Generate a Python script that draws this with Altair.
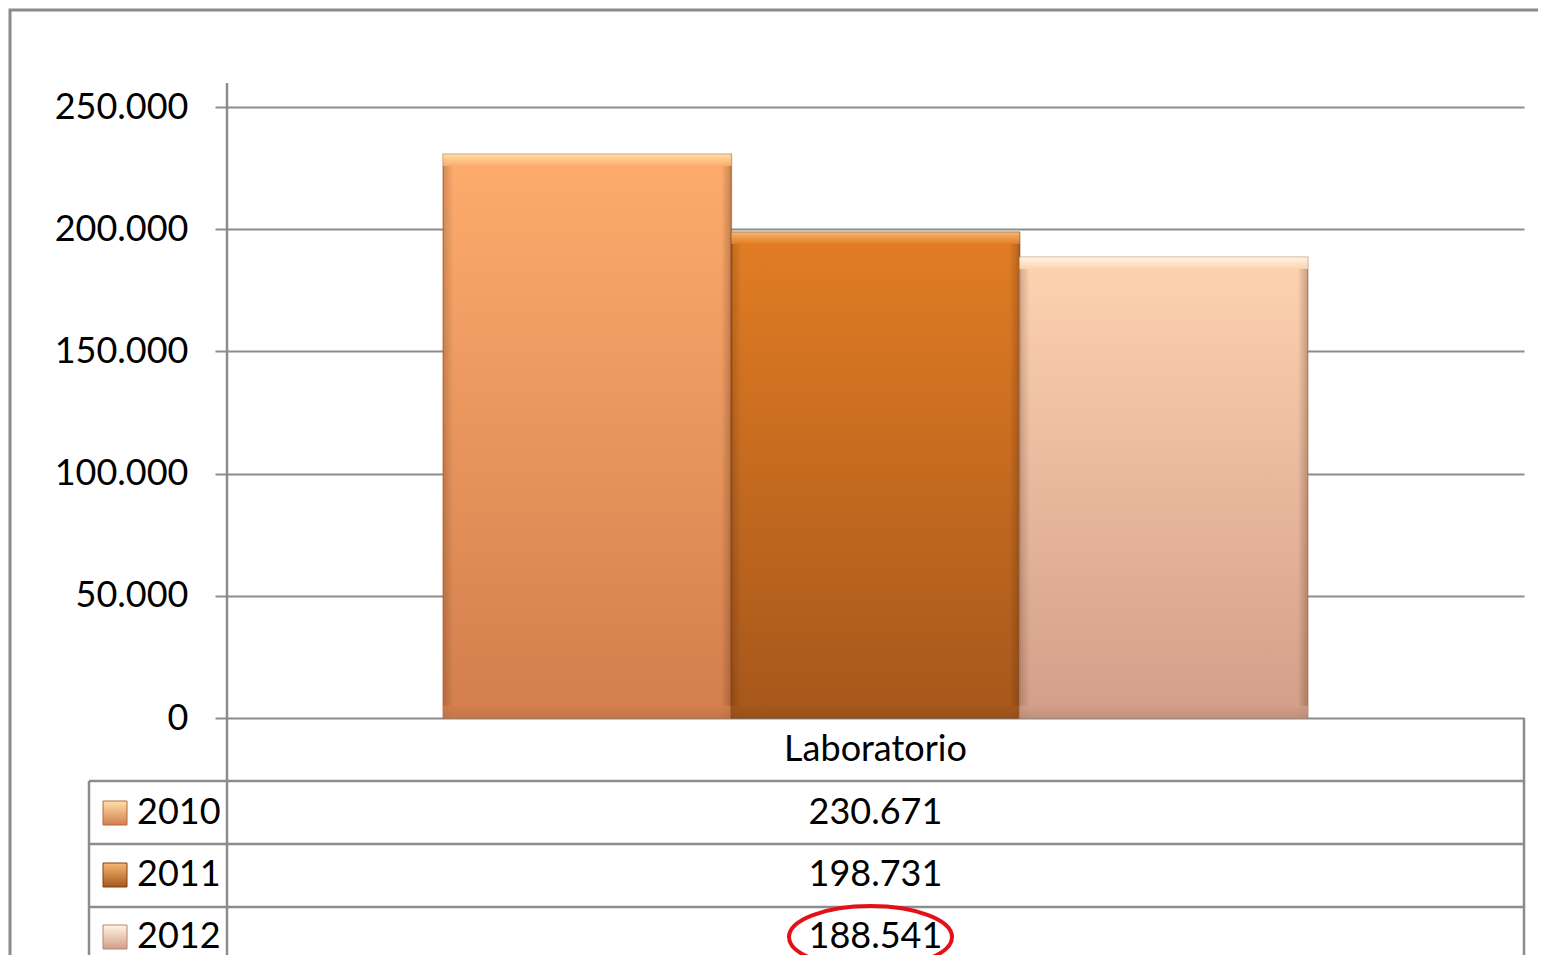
import altair as alt
import pandas as pd

# ---- data -------------------------------------------------------------
years = ["2010", "2011", "2012"]
values = [230671, 198731, 188541]
category = ["Laboratorio"]
y_ticks = [0, 50000, 100000, 150000, 200000, 250000]

top_colors = ["#FDAC6C", "#E27D24", "#FED2B1"]
bottom_colors = ["#D27E4D", "#A6571B", "#D29E88"]
highlight_colors = ["#FFE2A8", "#F8B873", "#FFF6E4"]
base_colors = ["#BF7448", "#94501A", "#BC8E7A"]
edge_colors = ["#B8693A", "#7E4214", "#B88672"]

df = pd.DataFrame({"year": years, "value": values})
cat_df = pd.DataFrame({"cat": category})
one = pd.DataFrame({"a": [0]})

FONT = "Lato"
GRID = "#8C8C8C"
W, H = 1297, 611

yq = alt.Scale(domain=[0, 250000], nice=False, zero=True)
xs = alt.Scale(domain=years, paddingOuter=0.75, paddingInner=0)
row_scale = alt.Scale(type="point", domain=years, range=[706, 830], padding=0)

yaxis = alt.Axis(
    values=y_ticks,
    labelExpr="replace(format(datum.value, ','), ',', '.')",
    grid=True, gridColor=GRID, gridWidth=2,
    domain=False, tickColor=GRID, tickWidth=2, tickSize=12,
    labelFont=FONT, labelFontSize=36, labelColor="black",
    labelPadding=27, title=None,
)


def vgrad(c1, c2):
    return alt.Gradient(
        gradient="linear",
        stops=[alt.GradientStop(color=c1, offset=0), alt.GradientStop(color=c2, offset=1)],
        x1=0, x2=0, y1=0, y2=1,
    )


side_shade = alt.Gradient(
    gradient="linear",
    stops=[
        alt.GradientStop(color="rgba(60,30,10,0.22)", offset=0),
        alt.GradientStop(color="rgba(60,30,10,0)", offset=0.035),
        alt.GradientStop(color="rgba(60,30,10,0)", offset=0.965),
        alt.GradientStop(color="rgba(60,30,10,0.28)", offset=1),
    ],
    x1=0, x2=1, y1=0, y2=0,
)


def rule(x, x2, y, y2, color=GRID, width=2.5):
    return alt.Chart(one).mark_rule(color=color, strokeWidth=width).encode(
        x=alt.value(x), x2=alt.value(x2), y=alt.value(y), y2=alt.value(y2)
    )


layers = []

# outer chart border (no fill, so the axis grid stays visible)
layers.append(
    alt.Chart(one).mark_rect(filled=False, stroke="#8A8A8A", strokeWidth=3).encode(
        x=alt.value(-217), x2=alt.value(1360), y=alt.value(-97), y2=alt.value(900)
    )
)

for i, yr in enumerate(years):
    base = alt.Chart(df).transform_filter(alt.datum.year == yr)
    X = alt.X("year:N", scale=xs, axis=None)
    bar = base.mark_bar(
        color=vgrad(top_colors[i], bottom_colors[i]),
        stroke=edge_colors[i], strokeWidth=1.5, strokeOpacity=0.7,
    ).encode(
        x=X,
        y=alt.Y("value:Q", scale=yq, axis=yaxis if i == 0 else None),
    )
    shade = base.mark_bar(color=side_shade).encode(
        x=X,
        y=alt.Y("value:Q", scale=yq, axis=None),
    )
    hl = base.transform_calculate(lo="datum.value - 4800").mark_bar(
        color=vgrad(highlight_colors[i], top_colors[i]), opacity=0.95,
    ).encode(
        x=X,
        y=alt.Y("value:Q", scale=yq, axis=None),
        y2="lo:Q",
    )
    bt = base.transform_calculate(z="0", hi="5000").mark_bar(
        color=vgrad(bottom_colors[i], base_colors[i]), opacity=0.8,
    ).encode(
        x=X,
        y=alt.Y("z:Q", scale=yq, axis=None),
        y2="hi:Q",
    )
    sw = base.mark_square(
        color=vgrad(highlight_colors[i], bottom_colors[i]), size=576, opacity=1,
        stroke=edge_colors[i], strokeWidth=1,
    ).encode(
        x=alt.value(-112),
        y=alt.Y("year:N", scale=row_scale, axis=None),
    )
    layers += [bar, shade, hl, bt, sw]

# y axis line and data table lines
layers += [
    rule(0, 0, -24, 900, width=2.5),
    rule(-138, W, 674, 674),
    rule(-138, W, 737, 737),
    rule(-138, W, 800, 800),
    rule(W, W, H, 900),
    rule(-138, -138, 674, 900),
]

# header text
layers.append(
    alt.Chart(cat_df).mark_text(font=FONT, fontSize=36, color="black", baseline="middle", align="center").encode(
        x=alt.value(W / 2), y=alt.value(643), text="cat:N"
    )
)

# year labels
layers.append(
    alt.Chart(df).mark_text(font=FONT, fontSize=36, color="black", baseline="middle", align="left").encode(
        x=alt.value(-90), y=alt.Y("year:N", scale=row_scale, axis=None), text="year:N"
    )
)

# value labels
layers.append(
    alt.Chart(df).transform_calculate(
        label="replace(format(datum.value, ','), ',', '.')"
    ).mark_text(font=FONT, fontSize=36, color="black", baseline="middle", align="center").encode(
        x=alt.value(W / 2), y=alt.Y("year:N", scale=row_scale, axis=None), text="label:N"
    )
)

# red ellipse annotation around the 2012 value
ry = 0.38
k = 0.5523
ell = (
    f"M -1 0 C -1 {-k*ry:.4f} {-k:.4f} {-ry} 0 {-ry} "
    f"C {k:.4f} {-ry} 1 {-k*ry:.4f} 1 0 "
    f"C 1 {k*ry:.4f} {k:.4f} {ry} 0 {ry} "
    f"C {-k:.4f} {ry} -1 {k*ry:.4f} -1 0 Z"
)
layers.append(
    alt.Chart(df).transform_filter(alt.datum.year == "2012").mark_point(
        shape=ell, size=163 ** 2, filled=False, stroke="#E3101A", strokeWidth=4, opacity=1
    ).encode(
        x=alt.value(W / 2 - 5), y=alt.Y("year:N", scale=row_scale, axis=None)
    )
)

chart = alt.layer(*layers).resolve_scale(y="independent").properties(
    width=W, height=H,
    padding={"left": 219, "top": 99, "right": 14, "bottom": 237},
    autosize=alt.AutoSizeParams(type="none"),
    background="white",
).configure_view(stroke=None)

chart.save("out.html", embed_options={"renderer": "svg", "actions": False})
